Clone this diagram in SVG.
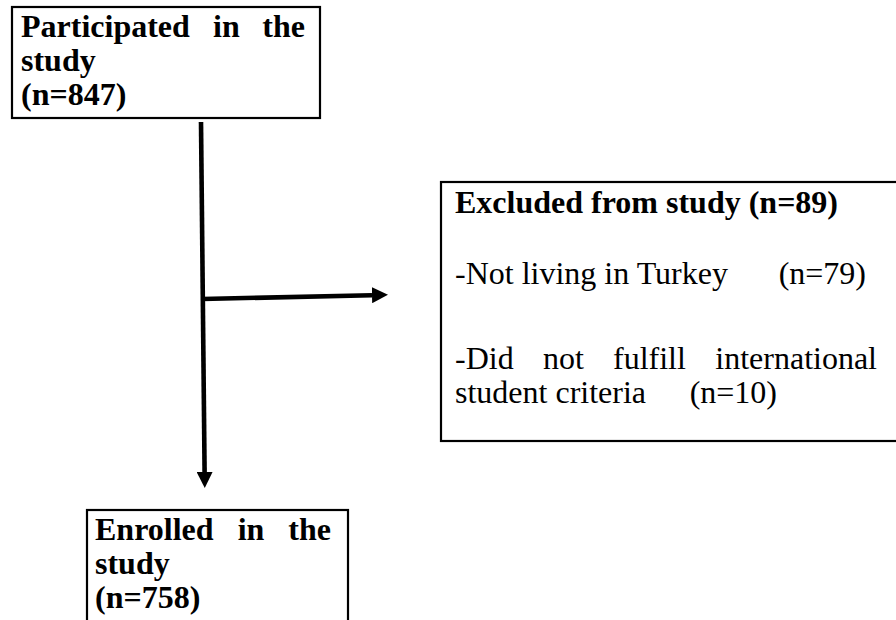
<svg xmlns="http://www.w3.org/2000/svg" width="896" height="620" viewBox="0 0 896 620">
  <defs>
    <style>
      .box { fill: #ffffff; stroke: #000000; stroke-width: 2.2; }
      .b { font-family: "Liberation Serif", "Times New Roman", serif; font-weight: bold; font-size: 32px; fill: #000; }
      .r { font-family: "Liberation Serif", "Times New Roman", serif; font-size: 32px; fill: #000; }
      .conn { stroke: #000; stroke-width: 4.6; fill: none; marker-end: url(#arrow); }
    </style>
    <marker id="arrow" markerUnits="userSpaceOnUse" markerWidth="16" markerHeight="16" refX="0" refY="8" orient="auto">
      <path d="M0,0 L16,8 L0,16 z" fill="#000"/>
    </marker>
  </defs>
  <rect width="896" height="620" fill="#ffffff"/>

  <g id="participated">
    <rect class="box" x="12" y="7" width="308" height="111"/>
    <text class="b" x="21" y="37">Participated</text>
    <text class="b" x="213" y="37">in</text>
    <text class="b" x="305" y="37" text-anchor="end">the</text>
    <text class="b" x="21" y="71">study</text>
    <text class="b" x="21" y="105">(n=847)</text>
  </g>

  <g id="excluded">
    <rect class="box" x="441" y="182" width="480" height="259"/>
    <text class="b" x="455" y="213">Excluded from study (n=89)</text>
    <text class="r" x="455" y="284">-Not living in Turkey</text>
    <text class="r" x="866" y="284" text-anchor="end">(n=79)</text>
    <text class="r" x="455" y="369">-Did</text>
    <text class="r" x="543" y="369">not</text>
    <text class="r" x="613" y="369">fulfill</text>
    <text class="r" x="877" y="369" text-anchor="end">international</text>
    <text class="r" x="455" y="403">student criteria</text>
    <text class="r" x="777" y="403" text-anchor="end">(n=10)</text>
  </g>

  <g id="enrolled">
    <rect class="box" x="87" y="510" width="261" height="130"/>
    <text class="b" x="95" y="540">Enrolled</text>
    <text class="b" x="237.7" y="540">in</text>
    <text class="b" x="331" y="540" text-anchor="end">the</text>
    <text class="b" x="95" y="574">study</text>
    <text class="b" x="95" y="608">(n=758)</text>
  </g>

  <g id="connectors">
    <line class="conn" x1="201" y1="122" x2="204.6" y2="472"/>
    <line class="conn" x1="202" y1="299" x2="372" y2="295.2"/>
  </g>
</svg>
